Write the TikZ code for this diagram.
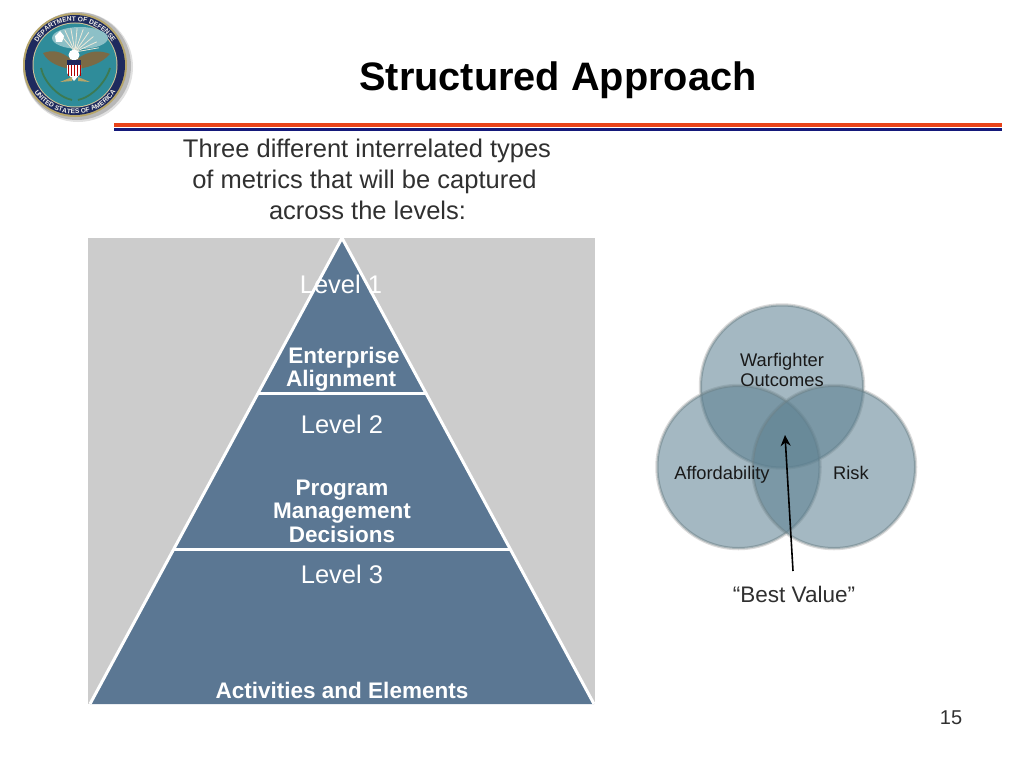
\documentclass[tikz,border=0pt]{standalone}
\usepackage{fontspec}
\setmainfont{Liberation Sans}
\usetikzlibrary{arrows.meta,decorations.text}
\definecolor{pyr}{HTML}{5B7793}
\definecolor{bggray}{HTML}{CCCCCC}
\definecolor{vennfill}{HTML}{5B7F90}
\definecolor{vennedge}{HTML}{6E8288}
\definecolor{barred}{HTML}{E8431A}
\definecolor{barnavy}{HTML}{14197A}
\definecolor{sealnavy}{HTML}{1E2A5E}
\definecolor{sealgold}{HTML}{B7A66A}
\definecolor{sealteal}{HTML}{2F8C9A}
\definecolor{sealbrown}{HTML}{7B6A45}
\definecolor{sealgreen}{HTML}{3C7A52}
\definecolor{txt}{HTML}{303030}
\tikzset{
  x=1pt,y=-1pt,
  body/.style={font=\fontsize{25.5}{28}\selectfont,text=txt,inner sep=0pt,anchor=base},
  title/.style={font=\fontsize{39.7}{44}\selectfont\bfseries,text=black,inner sep=0pt,anchor=base},
  level/.style={font=\fontsize{25.5}{28}\selectfont,text=white,inner sep=0pt,anchor=base},
  pyrbold/.style={font=\fontsize{22.5}{26}\selectfont\bfseries,text=white,inner sep=0pt,anchor=base},
  venn/.style={font=\fontsize{18.3}{20}\selectfont,text=black!90,inner sep=0pt,anchor=base},
  circ/.style={fill=vennfill,fill opacity=.55,draw=vennedge,draw opacity=.55,line width=2pt},
  halo/.style={draw=black!14,line width=1.5pt},
  pyrline/.style={draw=white,line width=3pt},
  sealtext/.style={decoration={text along path,text align=center,
     text={|\fontsize{6.6}{8}\selectfont\bfseries\color{white!85!sealgold}|#1}},decorate},
}
\begin{document}
\begin{tikzpicture}
\useasboundingbox (0,0) rectangle (1024,768);
\fill[white] (0,0) rectangle (1024,768);
% seal
\fill[black!12] (78,67) circle (55);
\fill[black!28] (77,66) circle (54);
\fill[sealgold] (75,65) circle (52);
\fill[sealnavy] (75,65) circle (50);
\fill[sealgold!70!white] (75,65) circle (42.5);
\fill[sealteal] (75,65) circle (41.5);
\fill[sealteal!55!white] (80,38) ellipse (28 and 11);
\foreach \a in {-40,-25,...,80}
  \draw[white!75!sealgold,line width=.8pt] (75,52) -- ++({\a-90}:24);
\fill[white] (55,36) -- (60,31) -- (64,36) -- (62,42) -- (56,42) -- cycle;
\fill[sealbrown] (72,60) .. controls (60,50) and (52,50) .. (43,53) .. controls (48,63) and (60,67) .. (70,69) -- cycle;
\fill[sealbrown] (76,60) .. controls (88,50) and (100,50) .. (110,54) .. controls (102,63) and (90,67) .. (78,69) -- cycle;
\fill[white] (74,55) circle (5.5);
\fill[sealnavy] (67,60) rectangle (81,65);
\fill[white] (67,65) -- (81,65) -- (81,73) -- (74,81) -- (67,73) -- cycle;
\foreach \s in {68,71,...,80}
  \fill[red!70!black] (\s,65) rectangle ++(1.4,11);
\draw[sealgreen,line width=1.8pt] (41,68) .. controls (44,82) and (58,97) .. (72,100);
\draw[sealgreen,line width=1.8pt] (110,68) .. controls (106,82) and (92,97) .. (78,100);
\fill[sealgold] (60,82) -- (72,77) -- (72,81) -- cycle;
\fill[sealgold] (90,82) -- (78,77) -- (78,81) -- cycle;
\path[sealtext={DEPARTMENT OF DEFENSE}] (31.7,71) arc[start angle=172,end angle=368,radius=43.7];
\path[sealtext={UNITED STATES OF AMERICA}] (27.1,75) arc[start angle=168,end angle=12,radius=49];
% title bars
\fill[barred] (114,123.4) rectangle (1002,127.2);
\fill[barnavy] (114,127.8) rectangle (1002,131);
\node[title] (ttl) at (558,90) {Structured Approach};
\node[body] (l1) at (367,157) {Three different interrelated types};
\node[body] (l2) at (364.5,188) {of metrics that will be captured};
\node[body] (l3) at (367.5,219.5) {across the levels:};
% pyramid
\fill[bggray] (88,238) rectangle (595,704);
\fill[pyr] (342,238) -- (594,704) -- (90,704) -- cycle;
\draw[pyrline,line join=miter] (90,704) -- (342,238) -- (594,704);
\draw[pyrline] (258,393.3) -- (426,393.3);
\draw[pyrline] (174,549.3) -- (510,549.3);
\node[level] (lev1) at (341,293) {Level 1};
\node[pyrbold] (ent) at (344,363.5) {Enterprise};
\node[pyrbold] (ali) at (341,386) {Alignment};
\node[level] (lev2) at (342,433) {Level 2};
\node[pyrbold] (pr1) at (342,495) {Program};
\node[pyrbold] (pr2) at (342,518) {Management};
\node[pyrbold] (pr3) at (342,542) {Decisions};
\node[level] (lev3) at (342,583) {Level 3};
\node[pyrbold] (act) at (342,698) {Activities and Elements};
% venn
\path[halo] (782,386.5) circle (82.5);
\path[halo] (738.5,467) circle (82.5);
\path[halo] (834,467) circle (82.5);
\path[circ] (782,386.5) circle (81);
\path[circ] (738.5,467) circle (81);
\path[circ] (834,467) circle (81);
\node[venn] (w1) at (782,366) {Warfighter};
\node[venn] (w2) at (782,386) {Outcomes};
\node[venn] (af) at (722,479) {Affordability};
\node[venn] (ri) at (851,479) {Risk};
\node[body,font=\fontsize{22.5}{24}\selectfont] (bv) at (794,602) {“Best Value”};
\coordinate (bvs) at (793,571);
\coordinate (bvt) at (785,435);
\draw[black,line width=1.6pt,-{Stealth[length=11pt,width=10pt]}] (bvs) -- (bvt);
\node[font=\fontsize{20}{24}\selectfont,text=txt,inner sep=0pt,anchor=base] (pg) at (951,724) {15};
\end{tikzpicture}
\end{document}
